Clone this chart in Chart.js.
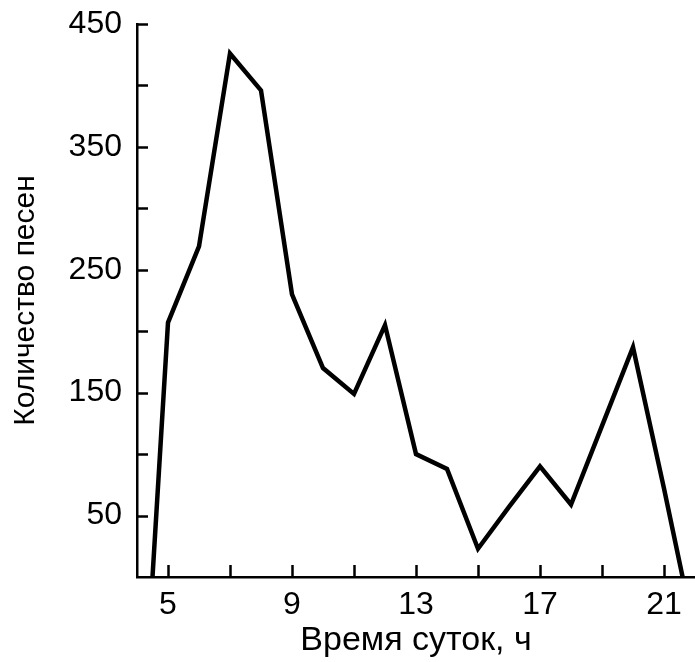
<!DOCTYPE html>
<html>
<head>
<meta charset="utf-8">
<script src="https://cdn.jsdelivr.net/npm/chart.js@4"></script>
<style>
  html, body { margin: 0; padding: 0; background: #fff; }
  #wrap { width: 695px; height: 662px; }
</style>
</head>
<body>
<div id="wrap"><canvas id="c"></canvas></div>
<script>
const hours = [4.5, 5, 6, 7, 8, 9, 10, 11, 12, 13, 14, 15, 16, 17, 18, 19, 20, 21, 21.6];
const counts = [0, 207, 269, 426, 396, 230, 170, 149, 205, 100, 88, 23, 57, 90, 59, 123, 187, 72, 0];
const xTickValues = [5, 7, 9, 11, 13, 15, 17, 19, 21];
const xTickLabels = [5, 9, 13, 17, 21];
const yTickLabels = [50, 150, 250, 350, 450];
const xTitle = 'Время суток, ч';
const yTitle = 'Количество песен';

const FONT = "'Liberation Sans', Arial, sans-serif";

const inwardTicks = {
  id: 'inwardTicks',
  afterDatasetsDraw(chart) {
    const ctx = chart.ctx;
    const area = chart.chartArea;
    const xs = chart.scales.x, ys = chart.scales.y;
    ctx.save();
    ctx.strokeStyle = '#000';
    ctx.lineWidth = 2.5;
    ctx.beginPath();
    ys.ticks.forEach(t => {
      if (t.value <= 0) return;
      const y = Math.round(ys.getPixelForValue(t.value)) + 0.5;
      ctx.moveTo(area.left, y);
      ctx.lineTo(area.left + 11, y);
    });
    xs.ticks.forEach(t => {
      const x = Math.round(xs.getPixelForValue(t.value)) + 0.5;
      ctx.moveTo(x, area.bottom);
      ctx.lineTo(x, area.bottom - 12);
    });
    ctx.stroke();
    ctx.restore();
  }
};

new Chart(document.getElementById('c'), {
  type: 'line',
  data: {
    datasets: [{
      data: hours.map((h, i) => ({ x: h, y: counts[i] })),
      borderColor: '#000',
      borderWidth: 4.5,
      borderJoinStyle: 'miter',
      pointRadius: 0,
      fill: false,
      tension: 0
    }]
  },
  options: {
    responsive: true,
    maintainAspectRatio: false,
    animation: false,
    layout: { padding: { top: 24, right: 0, left: 0, bottom: 0 } },
    plugins: { legend: { display: false }, tooltip: { enabled: false } },
    scales: {
      x: {
        type: 'linear',
        min: 4,
        max: 22,
        afterBuildTicks(scale) {
          scale.ticks = xTickValues.map(v => ({ value: v }));
        },
        afterFit(scale) { scale.height = 85; scale.paddingLeft = 0; scale.paddingRight = 0; },
        ticks: {
          autoSkip: false,
          maxRotation: 0,
          color: '#000',
          padding: 9,
          font: { family: FONT, size: 32 },
          callback: v => xTickLabels.includes(v) ? String(v) : ''
        },
        grid: { display: true, drawOnChartArea: false, drawTicks: false, color: 'rgba(0,0,0,0)' },
        border: { display: true, color: '#000', width: 2.5 },
        title: {
          display: true,
          text: xTitle,
          color: '#000',
          font: { family: FONT, size: 34 },
          padding: { top: 0, bottom: 1 }
        }
      },
      y: {
        min: 0,
        max: 450,
        afterFit(scale) { scale.width = 137; scale.paddingTop = 0; scale.paddingBottom = 0; },
        ticks: {
          stepSize: 50,
          autoSkip: false,
          color: '#000',
          padding: 15,
          font: { family: FONT, size: 32 },
          callback: v => yTickLabels.includes(v) ? String(v) : ''
        },
        grid: { display: true, drawOnChartArea: false, drawTicks: false, color: 'rgba(0,0,0,0)' },
        border: { display: true, color: '#000', width: 2.5 },
        title: {
          display: true,
          text: yTitle,
          color: '#000',
          font: { family: FONT, size: 30 },
          padding: { top: 8, bottom: 0 }
        }
      }
    }
  },
  plugins: [inwardTicks]
});
</script>
</body>
</html>
